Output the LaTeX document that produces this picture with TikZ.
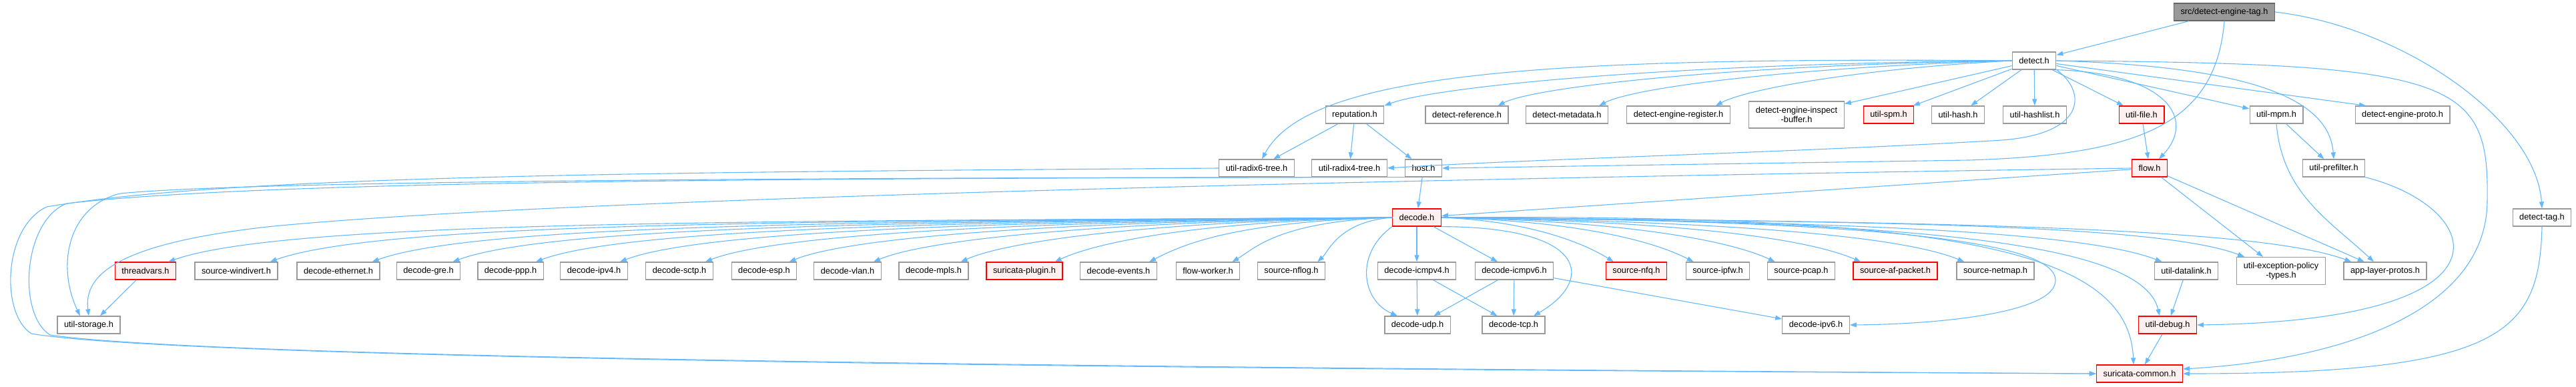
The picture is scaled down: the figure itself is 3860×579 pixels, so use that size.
\documentclass[tikz,border=0pt]{standalone}
\usepackage{fontspec}
\setmainfont{Liberation Sans}
\usetikzlibrary{arrows.meta}
\definecolor{edgeblue}{HTML}{63B8FF}
\definecolor{boxgray}{HTML}{999999}
\definecolor{rootline}{HTML}{666666}
\definecolor{redfill}{HTML}{FFF0F0}
\tikzset{
  hdr/.style={draw=boxgray, fill=white, line width=1.3pt, minimum height=26pt,
    inner xsep=10pt, inner ysep=2pt, align=center,
    font=\fontsize{12.8}{14.5}\selectfont},
  hdrred/.style={hdr, draw=red, fill=redfill},
  hdrroot/.style={hdr, draw=rootline, fill=boxgray},
  inc/.style={draw=edgeblue, line width=1.1pt, -{Triangle[length=10pt,width=7pt]}},
}
\begin{document}
\begin{tikzpicture}[x=1pt,y=-1pt]
            \useasboundingbox (0,0) rectangle (3860,579);
            % top
            \node[hdrroot] (root) at (3333,18) {src/detect-engine-tag.h};
            \node[hdr] (detect) at (3048,91) {detect.h};
            % detect.h includes
            \node[hdr] (reputation) at (2030,172) {reputation.h};
            \node[hdr] (reference) at (2198,172) {detect-reference.h};
            \node[hdr] (metadata) at (2348,172) {detect-metadata.h};
            \node[hdr] (register) at (2515,172) {detect-engine-register.h};
            \node[hdr, minimum height=40pt] (inspect) at (2692,172) {detect-engine-inspect\\-buffer.h};
            \node[hdrred] (spm) at (2830,172) {util-spm.h};
            \node[hdr] (hash) at (2934,172) {util-hash.h};
            \node[hdr] (hashlist) at (3049,172) {util-hashlist.h};
            \node[hdrred] (file) at (3209,172) {util-file.h};
            \node[hdr] (mpm) at (3411,172) {util-mpm.h};
            \node[hdr] (proto) at (3600,172) {detect-engine-proto.h};
            % third row
            \node[hdr] (radix6) at (1883,252) {util-radix6-tree.h};
            \node[hdr] (radix4) at (2022,252) {util-radix4-tree.h};
            \node[hdr] (host) at (2133,252) {host.h};
            \node[hdrred] (flow) at (3221,252) {flow.h};
            \node[hdr] (prefilter) at (3497,252) {util-prefilter.h};
            \node[hdrred] (decode) at (2123,326) {decode.h};
            \node[hdr] (dtag) at (3809,326) {detect-tag.h};
            % decode.h includes
            \node[hdrred] (threadvars) at (218,406) {threadvars.h};
            \node[hdr] (windivert) at (354,406) {source-windivert.h};
            \node[hdr] (ethernet) at (507,406) {decode-ethernet.h};
            \node[hdr] (gre) at (642,406) {decode-gre.h};
            \node[hdr] (ppp) at (765,406) {decode-ppp.h};
            \node[hdr] (ipv4) at (890,406) {decode-ipv4.h};
            \node[hdr] (sctp) at (1018,406) {decode-sctp.h};
            \node[hdr] (esp) at (1145,406) {decode-esp.h};
            \node[hdr] (vlan) at (1270,406) {decode-vlan.h};
            \node[hdr] (mpls) at (1399,406) {decode-mpls.h};
            \node[hdrred] (plugin) at (1535,406) {suricata-plugin.h};
            \node[hdr] (events) at (1676,406) {decode-events.h};
            \node[hdr] (flowworker) at (1810,406) {flow-worker.h};
            \node[hdr] (nflog) at (1935,406) {source-nflog.h};
            \node[hdr] (icmpv4) at (2123,406) {decode-icmpv4.h};
            \node[hdr] (icmpv6) at (2269,406) {decode-icmpv6.h};
            \node[hdrred] (nfq) at (2452,406) {source-nfq.h};
            \node[hdr] (ipfw) at (2574,406) {source-ipfw.h};
            \node[hdr] (pcap) at (2699,406) {source-pcap.h};
            \node[hdrred] (afpacket) at (2840,406) {source-af-packet.h};
            \node[hdr] (netmap) at (2990,406) {source-netmap.h};
            \node[hdr] (datalink) at (3276,406) {util-datalink.h};
            \node[hdr, minimum height=41pt] (exception) at (3418,406) {util-exception-policy\\-types.h};
            \node[hdr] (applayer) at (3574,406) {app-layer-protos.h};
            % lower rows
            \node[hdr] (storage) at (133,487) {util-storage.h};
            \node[hdr] (udp) at (2124,487) {decode-udp.h};
            \node[hdr] (tcp) at (2268,487) {decode-tcp.h};
            \node[hdr] (ipv6) at (2721,487) {decode-ipv6.h};
            \node[hdrred] (debug) at (3248,487) {util-debug.h};
            \node[hdrred] (common) at (3206,560) {suricata-common.h};

            % from the file itself
            \draw[inc] (root) -- (detect);
            \draw[inc] (root.east) .. controls (3600,40) and (3800,180) .. (dtag.north);
            \draw[inc] (root.south) .. controls (3320,190) and (3200,232) .. (2950,240) -- (host.east);

            % detect.h
            \draw[inc] (detect.west) .. controls (2500,95) and (2150,130) .. (reputation.north east);
            \draw[inc] (detect.west) .. controls (2600,97) and (2300,130) .. ([xshift=-16pt]reference.north east);
            \draw[inc] (detect.west) .. controls (2700,100) and (2450,130) .. ([xshift=-14pt]metadata.north east);
            \draw[inc] (detect.west) .. controls (2800,102) and (2620,132) .. ([xshift=-22pt]register.north east);
            \draw[inc] (detect) -- (inspect);
            \draw[inc] (detect) -- (spm);
            \draw[inc] (detect) -- (hash);
            \draw[inc] (detect) -- (hashlist);
            \draw[inc] (detect) -- (file);
            \draw[inc] (detect) -- (mpm);
            \draw[inc] (detect) -- ([xshift=-55pt]proto.north);
            \draw[inc] (detect.west) .. controls (2300,85) and (1960,110) .. ([xshift=8pt]radix6.north);
            \draw[inc] (detect.south east) .. controls (3125,135) and (3130,200) .. (3000,210) .. controls (2700,228) and (2300,238) .. (radix4.east);
            \draw[inc] (detect.south east) .. controls (3250,110) and (3290,180) .. ([xshift=14pt]flow.north);
            \draw[inc] (detect.east) .. controls (3380,100) and (3490,150) .. (prefilter.north);
            \draw[inc] (detect.east) .. controls (3680,95) and (3730,120) .. (3727,300) .. controls (3727,470) and (3500,540) .. ([yshift=7pt]common.east);

            % reputation.h and the radix trees
            \draw[inc] (reputation) -- (radix6);
            \draw[inc] (reputation) -- (radix4);
            \draw[inc] (reputation) -- (host);
            \draw[inc] (radix6.west) .. controls (1000,258) and (350,262) .. (70,310) .. controls (5,340) and (0,470) .. (47,500) .. controls (250,535) and (1500,552) .. (common.west);
            \draw[inc] (radix4.south west) .. controls (1200,268) and (400,270) .. (100,305) .. controls (35,330) and (25,470) .. (75,502) .. controls (300,535) and (1500,550) .. (common.west);

            % host.h and flow.h
            \draw[inc] (host) -- (decode);
            \draw[inc] (host.south west) .. controls (1500,266) and (400,268) .. (180,290) .. controls (100,310) and (85,400) .. ([xshift=-13pt]storage.north);
            \draw[inc] (file) -- (flow);
            \draw[inc] (flow) -- (decode);
            \draw[inc] (flow.west) .. controls (2500,262) and (900,290) .. (400,340) .. controls (180,365) and (125,410) .. (storage.north);
            \draw[inc] (flow) -- (exception);
            \draw[inc] (flow) -- (applayer);
            \draw[inc] (mpm) -- (prefilter);
            \draw[inc] (mpm.south) .. controls (3420,290) and (3490,330) .. ([xshift=-17pt]applayer.north);
            \draw[inc] (prefilter.south east) .. controls (3720,310) and (3790,480) .. (debug.east);
            \draw[inc] (dtag.south) .. controls (3805,500) and (3750,560) .. (common.east);

            % decode.h fan
            \foreach \t/\a in {threadvars/900, windivert/850, ethernet/780, gre/720, ppp/660, ipv4/600, sctp/540, esp/480, vlan/420, mpls/360, plugin/300, events/240, flowworker/170, nflog/80}
              \draw[inc] (decode.west) .. controls +(-\a,6) and +(0.2*\a,-0.06*\a-10) .. ([xshift=-12pt]\t.north east);
            \foreach \t/\a in {nfq/150, ipfw/230, pcap/300, afpacket/380, netmap/450, datalink/600, exception/650, applayer/720}
              \draw[inc] (decode.east) .. controls +(\a,6) and +(-0.2*\a,-0.06*\a-10) .. ([xshift=12pt]\t.north west);
            \draw[inc] (decode) -- (icmpv4);
            \draw[inc] (decode) -- (icmpv6);
            \draw[inc] (decode.south west) .. controls (2030,380) and (2040,450) .. ([xshift=-30pt]udp.north);
            \draw[inc] (decode.south east) .. controls (2380,340) and (2390,420) .. ([xshift=30pt]tcp.north);
            \draw[inc] (decode.east) .. controls (2800,330) and (3080,360) .. (3080,420) .. controls (3080,470) and (2900,486) .. (ipv6.east);
            \draw[inc] (decode.east) .. controls (2850,330) and (3210,360) .. ([xshift=-12pt]debug.north);
            \draw[inc] (decode.east) .. controls (2950,320) and (3190,380) .. ([xshift=-9pt]common.north);

            % the rest
            \draw[inc] (threadvars) -- ([xshift=17pt]storage.north);
            \draw[inc] (icmpv4) -- (udp);
            \draw[inc] (icmpv4) -- (tcp);
            \draw[inc] (icmpv6) -- (udp);
            \draw[inc] (icmpv6) -- (tcp);
            \draw[inc] (icmpv6) -- (ipv6);
            \draw[inc] (datalink) -- (debug);
            \draw[inc] (debug) -- (common);
        \end{tikzpicture}
\end{document}
